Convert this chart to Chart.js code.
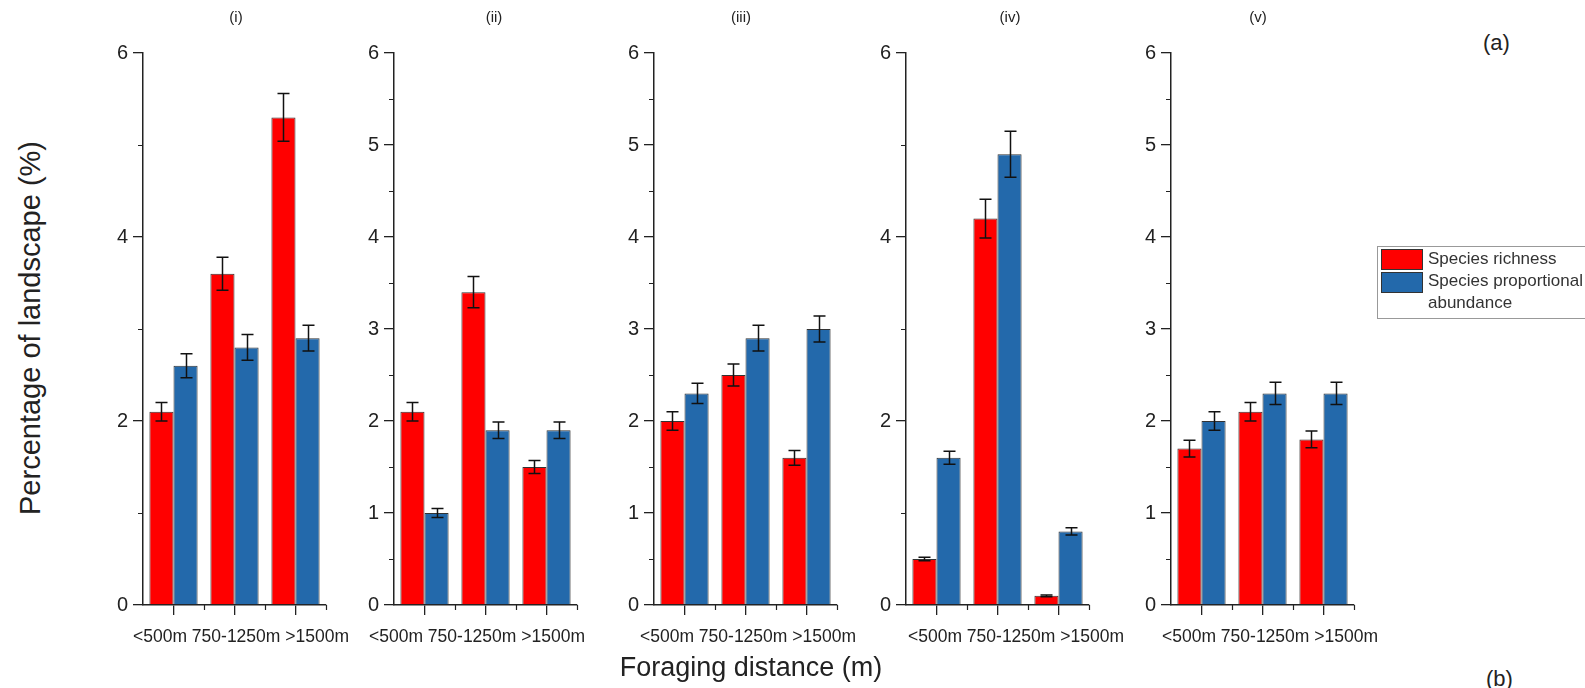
<!DOCTYPE html>
<html>
<head>
<meta charset="utf-8">
<script src="https://cdn.jsdelivr.net/npm/chart.js@4.4.1/dist/chart.umd.min.js"></script>
<style>
  body { margin: 0; background: #fff; width: 1585px; height: 688px; overflow: hidden; position: relative;
         font-family: "Liberation Sans", Arial, Helvetica, sans-serif; color: #222; }
  canvas.panel { position: absolute; top: 0; }
  .txt { position: absolute; white-space: nowrap; }
  .title { font-size: 15px; transform: translateX(-50%); top: 8px; }
  #legend { position: absolute; left: 1377px; top: 246px; width: 215px; height: 71px; border: 1px solid #999; }
  #legend .sw { position: absolute; left: 3px; width: 40px; height: 19px; border: 1px solid #333; }
  #legend .t { position: absolute; left: 50px; font-size: 17px; line-height: 22px; color: #333; }
</style>
</head>
<body>

<canvas class="panel" id="c0"></canvas>
<canvas class="panel" id="c1"></canvas>
<canvas class="panel" id="c2"></canvas>
<canvas class="panel" id="c3"></canvas>
<canvas class="panel" id="c4"></canvas>

<div class="txt" style="left:30px;top:328px;font-size:29px;transform:translate(-50%,-50%) rotate(-90deg);">Percentage of landscape (%)</div>
<div class="txt" style="left:751px;top:652px;font-size:27px;transform:translateX(-50%);">Foraging distance (m)</div>
<div class="txt" style="left:1483px;top:30px;font-size:22px;">(a)</div>
<div class="txt" style="left:1486px;top:666px;font-size:22px;">(b)</div>

<div id="legend">
  <div class="sw" style="top:2px;background:#ff0000;"></div>
  <div class="sw" style="top:25px;background:#2369ab;"></div>
  <div class="t" style="top:1px;">Species richness</div>
  <div class="t" style="top:23px;">Species proportional</div>
  <div class="t" style="top:45px;">abundance</div>
</div>

<script>
// data
const categories = ["<500m", "750-1250m", ">1500m"];
const panelNames = ["(i)", "(ii)", "(iii)", "(iv)", "(v)"];

const richness     = [[2.1, 3.6, 5.3], [2.1, 3.4, 1.5], [2.0, 2.5, 1.6], [0.5, 4.2, 0.1], [1.7, 2.1, 1.8]];
const richnessErr  = [[0.1, 0.18, 0.26], [0.1, 0.17, 0.07], [0.1, 0.12, 0.08], [0.02, 0.21, 0.01], [0.09, 0.1, 0.09]];
const abundance    = [[2.6, 2.8, 2.9], [1.0, 1.9, 1.9], [2.3, 2.9, 3.0], [1.6, 4.9, 0.8], [2.0, 2.3, 2.3]];
const abundanceErr = [[0.13, 0.14, 0.14], [0.05, 0.09, 0.09], [0.11, 0.14, 0.14], [0.07, 0.25, 0.04], [0.1, 0.12, 0.12]];

const yMax = 6;
const yStep = [2, 1, 1, 2, 1];

// panel placement
const axisLeft   = [143, 394, 654, 906, 1171];
const axisWidth  = 183;
const titleX     = [236, 494, 741, 1010, 1258];
const labelShift = [-10, -25, -14, 2, -9];   // category text starts this far from the y axis

const RED = "#ff0000";
const BLUE = "#2369ab";
const INK = "#222";
const FONT = "'Liberation Sans', Arial, Helvetica, sans-serif";

// error bars drawn from the dataset's errors through the y scale
const errorBars = {
  id: "errorBars",
  afterDatasetsDraw(chart) {
    const ctx = chart.ctx;
    const y = chart.scales.y;
    chart.data.datasets.forEach((ds, di) => {
      chart.getDatasetMeta(di).data.forEach((bar, i) => {
        const v = ds.data[i], e = ds.errors[i];
        const top = y.getPixelForValue(v + e);
        const bot = y.getPixelForValue(v - e);
        const cx = Math.round(bar.x) + 0.5;
        ctx.save();
        ctx.strokeStyle = "#111";
        ctx.lineWidth = 1.5;
        ctx.beginPath();
        ctx.moveTo(cx, top); ctx.lineTo(cx, bot);
        ctx.moveTo(cx - 6, top); ctx.lineTo(cx + 6, top);
        ctx.moveTo(cx - 6, bot); ctx.lineTo(cx + 6, bot);
        ctx.stroke();
        ctx.restore();
      });
    });
  }
};

// minor ticks and the category text, which runs as one line under the axis
const axisExtras = {
  id: "axisExtras",
  afterDraw(chart, args, opts) {
    const { ctx, scales: { x, y } } = chart;
    const step = chart.options.scales.y.ticks.stepSize;
    ctx.save();
    ctx.strokeStyle = INK;
    ctx.lineWidth = 1.2;
    ctx.beginPath();
    for (let v = step / 2; v < yMax; v += step) {
      const py = Math.round(y.getPixelForValue(v)) + 0.5;
      ctx.moveTo(x.left, py); ctx.lineTo(x.left - 5, py);
    }
    for (let i = 0; i < categories.length; i++) {
      const px = Math.round(x.getPixelForValue(i + 0.5)) + 0.5;
      ctx.moveTo(px, y.bottom); ctx.lineTo(px, y.bottom + 5);
    }
    ctx.stroke();

    ctx.font = "17.5px " + FONT;
    ctx.fillStyle = INK;
    ctx.textBaseline = "alphabetic";
    ctx.textAlign = "left";
    let tx = x.left + opts.shift;
    const space = ctx.measureText(" ").width;
    x.getLabels().forEach((lab) => {
      ctx.fillText(lab, tx, y.bottom + 37);
      tx += ctx.measureText(lab).width + space;
    });
    ctx.restore();
  }
};

panelNames.forEach((name, p) => {
  const canvas = document.getElementById("c" + p);
  const padRight = 45;
  canvas.width = 60 + axisWidth + padRight;
  canvas.height = 688;
  canvas.style.left = (axisLeft[p] - 60) + "px";

  const t = document.createElement("div");
  t.className = "txt title";
  t.style.left = titleX[p] + "px";
  t.textContent = name;
  document.body.appendChild(t);

  new Chart(canvas.getContext("2d"), {
    type: "bar",
    data: {
      labels: categories,
      datasets: [
        {
          label: "Species richness",
          data: richness[p],
          errors: richnessErr[p],
          backgroundColor: RED,
          borderColor: "#333",
          borderWidth: 1
        },
        {
          label: "Species proportional abundance",
          data: abundance[p],
          errors: abundanceErr[p],
          backgroundColor: BLUE,
          borderColor: "#333",
          borderWidth: 1
        }
      ]
    },
    options: {
      responsive: false,
      animation: false,
      devicePixelRatio: 1,
      categoryPercentage: 0.79,
      barPercentage: 1.0,
      layout: { padding: { top: 53, bottom: 33, left: 0, right: padRight } },
      plugins: {
        legend: { display: false },
        tooltip: { enabled: false },
        axisExtras: { shift: labelShift[p] }
      },
      scales: {
        x: {
          offset: true,
          grid: { offset: false, drawOnChartArea: false, drawTicks: true, tickLength: 10, color: INK, lineWidth: 1.3 },
          border: { display: true, color: INK, width: 1.5 },
          ticks: { display: false },
          afterFit(scale) { scale.height = 50; }
        },
        y: {
          min: 0,
          max: yMax,
          grid: { drawOnChartArea: false, drawTicks: true, tickLength: 10, color: INK, lineWidth: 1.3 },
          border: { display: true, color: INK, width: 1.5 },
          ticks: { stepSize: yStep[p], color: INK, font: { family: FONT, size: 20 }, padding: 5 },
          afterFit(scale) { scale.width = 60; }
        }
      }
    },
    plugins: [errorBars, axisExtras]
  });
});
</script>
</body>
</html>
